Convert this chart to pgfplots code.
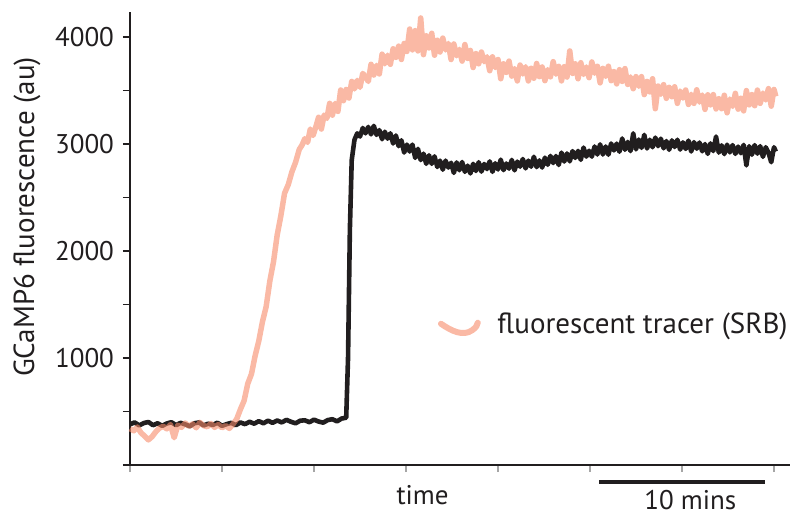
\documentclass[border=0pt]{standalone}
\usepackage{fontspec}
\setmainfont{PT Sans}
\usepackage{pgfplots}
\pgfplotsset{compat=1.18}
\definecolor{tracer}{RGB}{247,138,105}
\definecolor{gblack}{RGB}{33,30,31}
\begin{document}
\begin{tikzpicture}
\begin{axis}[
  at={(0,0)}, anchor=south west,
  scale only axis, width=330pt, height=226.5pt,
  xmin=0, xmax=7.174, ymin=0, ymax=4234,
  axis lines=left,
  axis line style={-, line width=1pt, color=gblack},
  clip=false,
  tick align=outside,
  major tick length=3.5pt,
  xtick={0,1,...,7}, xticklabels={},
  x tick style={gray!70, line width=0.8pt},
  ytick={0,500,...,4000},
  yticklabels={,,1000,,2000,,3000,,4000},
  y tick style={gblack, line width=0.8pt},
  /pgf/number format/assume math mode=true,
  ticklabel style={font=\fontsize{13.5}{16}\selectfont, text=gblack},
  yticklabel style={xshift=-1pt},
]
\addplot[gblack, line width=2.3pt, line join=round] coordinates {
(0.00,380)(0.05,398)(0.10,370)(0.15,392)(0.20,402)(0.25,372)(0.30,390)(0.35,366)(0.40,388)(0.45,400)
(0.50,372)(0.55,394)(0.60,380)(0.65,362)(0.70,390)(0.75,398)(0.80,370)(0.85,386)(0.90,374)(0.95,395)
(1.00,366)(1.05,382)(1.10,394)(1.15,372)(1.20,398)(1.25,382)(1.30,404)(1.35,386)(1.40,410)(1.45,390)
(1.50,414)(1.55,394)(1.60,416)(1.65,398)(1.70,422)(1.75,404)(1.80,390)(1.85,414)(1.90,418)(1.95,400)
(2.00,424)(2.05,406)(2.10,396)(2.15,420)(2.20,428)(2.25,408)(2.30,434)(2.35,442)
(2.37,1000)(2.39,2200)(2.41,2850)
(2.44,3040)(2.47,3100)(2.50,3070)(2.53,3150)(2.56,3100)(2.59,3160)(2.62,3090)(2.65,3170)(2.68,3085)(2.71,3130)
(2.74,3045)(2.77,3115)(2.80,3050)(2.83,3100)(2.86,3005)(2.89,3080)(2.92,2980)(2.95,3035)(2.98,2920)(3.01,2995)
(3.04,2930)(3.07,2995)(3.10,2870)(3.13,2955)(3.16,2850)(3.19,2910)(3.22,2815)(3.25,2895)(3.28,2815)(3.31,2885)
(3.34,2785)(3.37,2845)(3.40,2760)(3.43,2845)(3.46,2780)(3.49,2825)(3.52,2730)(3.55,2828)(3.58,2755)(3.61,2832)
(3.64,2740)(3.67,2798)(3.70,2725)(3.73,2815)(3.76,2748)(3.79,2830)(3.82,2742)(3.85,2814)(3.88,2766)(3.91,2838)
(3.94,2740)(3.97,2820)(4.00,2762)(4.03,2854)(4.06,2756)(4.09,2818)(4.12,2770)(4.15,2852)(4.18,2754)(4.21,2836)
(4.24,2788)(4.27,2860)(4.30,2772)(4.33,2845)(4.36,2788)(4.39,2881)(4.42,2784)(4.45,2847)(4.48,2780)(4.51,2873)
(4.54,2806)(4.57,2889)(4.60,2822)(4.63,2888)(4.66,2804)(4.69,2920)(4.72,2836)(4.75,2912)(4.78,2838)(4.81,2934)
(4.84,2870)(4.87,2936)(4.90,2852)(4.93,2967)(4.96,2882)(4.99,2937)(5.02,2882)(5.05,2977)(5.08,2902)(5.11,2997)
(5.14,2902)(5.17,2977)(5.20,2900)(5.23,3005)(5.26,2940)(5.29,3004)(5.32,2928)(5.35,3052)(5.38,2946)(5.41,3020)
(5.44,2934)(5.47,3100)(5.50,2950)(5.53,3042)(5.56,2964)(5.59,3086)(5.62,2958)(5.65,3040)(5.68,2970)(5.71,3060)
(5.74,2980)(5.77,3050)(5.80,2960)(5.83,3028)(5.86,2946)(5.89,3034)(5.92,2972)(5.95,3040)(5.98,2948)(6.01,3016)
(6.04,2954)(6.07,3032)(6.10,2930)(6.13,3018)(6.16,2956)(6.19,3014)(6.22,2932)(6.25,3000)(6.28,2908)(6.31,3006)
(6.34,2934)(6.37,3070)(6.40,2920)(6.43,2988)(6.46,2906)(6.49,2994)(6.52,2922)(6.55,2990)(6.58,2908)(6.61,2976)
(6.64,2914)(6.67,2992)(6.70,2800)(6.73,2980)(6.76,2900)(6.79,2990)(6.82,2910)(6.85,2980)(6.88,2880)(6.91,2970)
(6.94,2920)(6.97,2830)(7.00,2970)(7.02,2930)
};
\addplot[tracer, opacity=0.6, line width=2.75pt, line join=round] coordinates {
(0.00,340)(0.04,320)(0.08,355)(0.12,300)(0.16,270)(0.20,235)(0.24,265)(0.28,310)(0.32,345)(0.36,362)
(0.40,338)(0.44,378)(0.48,255)(0.52,372)(0.56,352)(0.60,392)(0.64,362)(0.68,384)(0.72,348)(0.76,398)
(0.80,368)(0.84,358)(0.88,388)(0.92,352)(0.96,378)(1.00,348)(1.04,368)(1.08,342)(1.12,382)(1.16,430)
(1.20,520)(1.24,600)(1.28,760)(1.32,850)(1.36,1020)(1.40,1160)(1.44,1340)(1.48,1480)(1.52,1720)(1.56,1900)
(1.60,2150)(1.64,2330)(1.68,2540)(1.72,2620)(1.76,2740)(1.80,2830)(1.84,2950)(1.87,2990)
(1.90,3050)(1.93,3015)(1.96,3140)(1.99,3080)(2.02,3160)(2.05,3250)(2.08,3140)(2.11,3270)(2.14,3240)(2.17,3380)
(2.20,3270)(2.23,3380)(2.26,3305)(2.29,3505)(2.32,3405)(2.35,3510)(2.38,3430)(2.41,3585)(2.44,3515)(2.47,3595)
(2.50,3530)(2.53,3660)(2.56,3630)(2.59,3585)(2.62,3745)(2.65,3645)(2.68,3735)(2.71,3655)(2.74,3840)(2.77,3750)
(2.80,3830)(2.83,3745)(2.86,3890)(2.89,3810)(2.92,3915)(2.95,3790)(2.98,3940)(3.01,3865)(3.04,4075)(3.07,3880)
(3.10,4060)(3.13,3870)(3.16,4178)(3.19,3835)(3.22,4012)(3.25,3898)(3.28,4035)(3.31,3830)(3.34,3970)(3.37,3860)
(3.40,3990)(3.43,3880)(3.46,3940)(3.49,3790)(3.52,3935)(3.55,3825)(3.58,3885)(3.61,3775)(3.64,3930)(3.67,3800)
(3.70,3875)(3.73,3715)(3.76,3845)(3.79,3750)(3.82,3860)(3.85,3770)(3.88,3815)(3.91,3685)(3.94,3815)(3.97,3715)
(4.00,3790)(4.03,3610)(4.06,3750)(4.09,3670)(4.12,3775)(4.15,3635)(4.18,3705)(4.21,3590)(4.24,3738)(4.27,3655)
(4.30,3722)(4.33,3590)(4.36,3708)(4.39,3615)(4.42,3753)(4.45,3630)(4.48,3720)(4.51,3592)(4.54,3695)(4.57,3628)
(4.60,3770)(4.63,3653)(4.66,3726)(4.69,3590)(4.72,3723)(4.75,3626)(4.78,3870)(4.81,3660)(4.84,3750)(4.87,3610)
(4.90,3760)(4.93,3650)(4.96,3720)(4.99,3620)(5.02,3767)(5.05,3662)(5.08,3727)(5.11,3572)(5.14,3707)(5.17,3632)
(5.20,3727)(5.23,3592)(5.26,3677)(5.29,3562)(5.32,3695)(5.35,3585)(5.38,3705)(5.41,3557)(5.44,3627)(5.47,3517)
(5.50,3630)(5.53,3540)(5.56,3630)(5.59,3462)(5.62,3585)(5.65,3487)(5.68,3610)(5.71,3330)(5.74,3542)(5.77,3465)
(5.80,3555)(5.83,3427)(5.86,3530)(5.89,3442)(5.92,3535)(5.95,3380)(5.98,3495)(6.01,3430)(6.04,3505)(6.07,3370)
(6.10,3465)(6.13,3380)(6.16,3507)(6.19,3392)(6.22,3458)(6.25,3324)(6.28,3460)(6.31,3366)(6.34,3462)(6.37,3328)
(6.40,3424)(6.43,3330)(6.46,3456)(6.49,3292)(6.52,3420)(6.55,3352)(6.58,3474)(6.61,3326)(6.64,3428)(6.67,3310)
(6.70,3500)(6.73,3366)(6.76,3462)(6.79,3358)(6.82,3504)(6.85,3380)(6.88,3476)(6.91,3412)(6.94,3518)(6.97,3354)
(7.00,3510)(7.02,3445)
};
% legend
\draw[tracer, opacity=0.6, line width=3pt, line cap=round]
  (axis cs:3.38,1320) .. controls (axis cs:3.50,1250) and (axis cs:3.62,1200) .. (axis cs:3.72,1260)
  .. controls (axis cs:3.76,1285) and (axis cs:3.78,1310) .. (axis cs:3.78,1330);
\node[anchor=west, inner sep=0pt, font=\fontsize{14.5}{17}\selectfont, text=gblack] at (axis cs:3.99,1295) {fluorescent tracer (SRB)};
% y label
\node[rotate=90, inner sep=0pt, font=\fontsize{14.5}{17}\selectfont, text=gblack] at ([xshift=-51.5pt]axis cs:0,2318) {GCaMP6 fluorescence (au)};
% x label
\node[inner sep=0pt, font=\fontsize{13.5}{16}\selectfont, text=gblack] at ([yshift=-15pt]axis cs:3.18,0) {time};
% scale bar
\draw[gblack, line width=1.6pt] ([yshift=-8.5pt]axis cs:5.098,0) -- ([yshift=-8.5pt]axis cs:6.902,0);
\node[inner sep=0pt, font=\fontsize{13.5}{16}\selectfont, text=gblack] at ([yshift=-17.5pt]axis cs:6.09,0) {10 mins};
\end{axis}
\pgfresetboundingbox
\path (-65pt,-30pt) rectangle (330.5pt,232.5pt);
\end{tikzpicture}
\end{document}
